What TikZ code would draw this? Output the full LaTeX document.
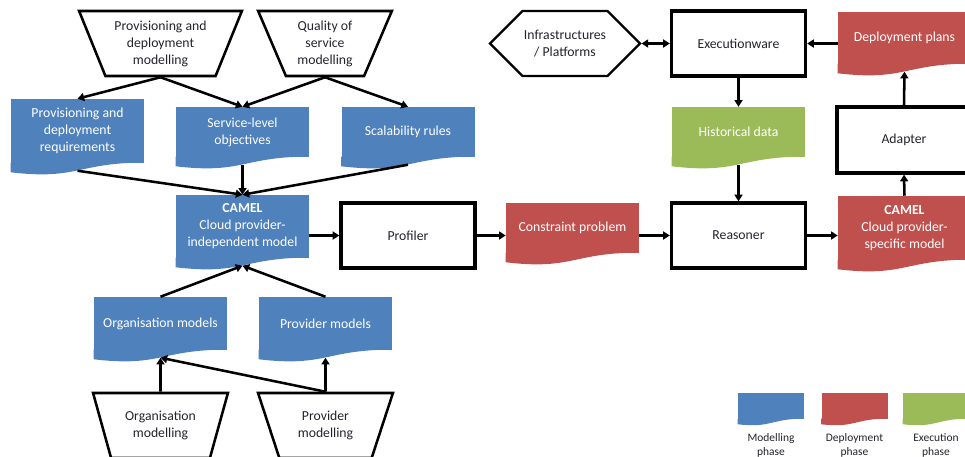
\documentclass[tikz,border=0pt]{standalone}
\usepackage{fontspec}
\setmainfont{Carlito}
\usetikzlibrary{shapes.geometric,shapes.symbols,arrows.meta}
\definecolor{modblue}{RGB}{79,129,189}
\definecolor{depred}{RGB}{192,80,77}
\definecolor{exegreen}{RGB}{155,187,89}
\definecolor{inktext}{RGB}{35,35,45}
\tikzset{
  txt/.style={font=\fontsize{10.3}{12.75}\selectfont,align=center},
  doc/.style={txt,rectangle,fill=#1,text=white,minimum width=99.75pt,inner sep=2pt,
    append after command={\pgfextra{\fill[#1] ([yshift=0.5pt]\tikzlastnode.south east) .. controls ([yshift=0.5pt]\tikzlastnode.south) and ([yshift=-12.75pt]\tikzlastnode.south) .. ([yshift=-6.75pt]\tikzlastnode.south west) -- ([yshift=0.5pt]\tikzlastnode.south west) -- cycle;}}},
  swatch/.style={rectangle,fill=#1,minimum width=49.5pt,minimum height=19.5pt,inner sep=0pt,
    append after command={\pgfextra{\fill[#1] ([yshift=0.5pt]\tikzlastnode.south east) .. controls ([yshift=0.5pt]\tikzlastnode.south) and ([yshift=-6.75pt]\tikzlastnode.south) .. ([yshift=-3.75pt]\tikzlastnode.south west) -- ([yshift=0.5pt]\tikzlastnode.south west) -- cycle;}}},
  trap/.style={txt,trapezium,shape border rotate=180,trapezium stretches=true,draw=black,line width=1.9pt,minimum height=48.75pt,inner sep=1pt,text=inktext},
  box/.style={txt,rectangle,draw=black,line width=2.5pt,line join=miter,fill=white,minimum width=100.5pt,minimum height=48.75pt,text=inktext},
  hexa/.style={txt,signal,signal to=east and west,signal pointer angle=90,draw=black,line width=1.6pt,minimum width=112.5pt,minimum height=48.75pt,inner sep=1pt,text=inktext},
  legtext/.style={font=\fontsize{8.6}{10.5}\selectfont,align=center,text=inktext},
  arr/.style={line width=1.9pt,-{Triangle[length=5pt,width=6pt]}},
  arr2/.style={line width=1.9pt,{Triangle[length=5pt,width=6pt]}-{Triangle[length=5pt,width=6pt]}}
}
\begin{document}
\begin{tikzpicture}[x=0.75pt,y=-0.75pt]
\useasboundingbox (0,0) rectangle (965,457);
\clip (0,0) rectangle (965,457);
\node[trap,trapezium angle=65,minimum width=122.25pt] (pdm) at (160.5,43.5) {Provisioning and\\deployment\\modelling};
\node[trap,trapezium angle=67,minimum width=100.5pt] (qos) at (325,43.5) {Quality of\\service\\modelling};
\node[trap,trapezium angle=67,minimum width=101.25pt] (orgmod) at (160.5,425.5) {Organisation\\modelling};
\node[trap,trapezium angle=67,minimum width=101.25pt] (provmod) at (325.5,425.5) {Provider\\modelling};
\node[doc=modblue,minimum height=48pt] (preq) at (77.5,131) {Provisioning and\\deployment\\requirements};
\node[doc=modblue,minimum height=37.5pt] (slo) at (242.5,132) {Service-level\\objectives};
\node[doc=modblue,minimum height=37.5pt] (scal) at (408,132) {Scalability rules};
\node[doc=modblue,minimum height=47.25pt] (camel) at (242.5,226.5) {\textbf{CAMEL}\\Cloud provider-\\independent model};
\node[doc=modblue,minimum height=39.75pt] (orgm) at (160.5,323.5) {Organisation models};
\node[doc=modblue,minimum height=39.75pt] (provm) at (325.5,323.5) {Provider models};
\node[box] (profiler) at (408,235.5) {Profiler};
\node[doc=depred,minimum height=37.5pt] (cprob) at (572.5,228) {Constraint problem};
\node[box] (reasoner) at (738.5,235.5) {Reasoner};
\node[doc=depred,minimum height=48pt] (cspec) at (904.5,228) {\textbf{CAMEL}\\Cloud provider-\\specific model};
\node[box,minimum height=49.5pt] (adapter) at (904,140) {Adapter};
\node[doc=depred,minimum height=39pt] (dplans) at (904.5,38) {Deployment plans};
\node[box] (exec) at (738.5,43.5) {Executionware};
\node[hexa] (infra) at (565,43.5) {Infrastructures\\/ Platforms};
\node[doc=exegreen,minimum height=37.5pt] (hist) at (738.5,132) {Historical data};
\coordinate (preq-w) at ([yshift=-5.6pt]preq.south);
\coordinate (slo-w) at ([yshift=-5.6pt]slo.south);
\coordinate (scal-w) at ([yshift=-5.6pt]scal.south);
\coordinate (camel-w) at ([yshift=-5.6pt]camel.south);
\coordinate (orgm-w) at ([yshift=-5.6pt]orgm.south);
\coordinate (provm-w) at ([yshift=-5.6pt]provm.south);
\coordinate (hist-w) at ([yshift=-5.6pt]hist.south);
\coordinate (dplans-w) at ([yshift=-5.6pt]dplans.south);
\draw[arr] (pdm.south) -- (preq.north);
\draw[arr] (pdm.south) -- (slo.north);
\draw[arr] (qos.south) -- (slo.north);
\draw[arr] (qos.south) -- (scal.north);
\draw[arr] (preq-w) -- (camel.north);
\draw[arr] (slo-w) -- (camel.north);
\draw[arr] (scal-w) -- (camel.north);
\draw[arr] (orgm.north) -- (camel-w);
\draw[arr] (provm.north) -- (camel-w);
\draw[arr] (orgmod.north) -- (orgm-w);
\draw[arr] (provmod.north) -- (orgm-w);
\draw[arr] (provmod.north) -- (provm-w);
\draw[arr] (profiler.west -| camel.east) -- (profiler.west);
\draw[arr] (profiler.east) -- (profiler.east -| cprob.west);
\draw[arr] (cprob.east |- reasoner.east) -- (reasoner.west);
\draw[arr] (reasoner.east) -- (reasoner.east -| cspec.west);
\draw[arr] (exec.south) -- (hist.north);
\draw[arr] (hist-w) -- (reasoner.north);
\draw[arr] (cspec.north) -- (adapter.south);
\draw[arr] (adapter.north) -- (dplans-w);
\draw[arr] (exec.east -| dplans.west) -- (exec.east);
\draw[arr2] (infra.east) -- (exec.west);
\node[swatch=modblue] (sw1) at (771,406) {};
\node[swatch=depred] (sw2) at (854.5,406) {};
\node[swatch=exegreen] (sw3) at (936,406) {};
\node[legtext] (lg1) at (771,445) {Modelling\\phase};
\node[legtext] (lg2) at (854.5,445) {Deployment\\phase};
\node[legtext] (lg3) at (936,445) {Execution\\phase};
\end{tikzpicture}
\end{document}
